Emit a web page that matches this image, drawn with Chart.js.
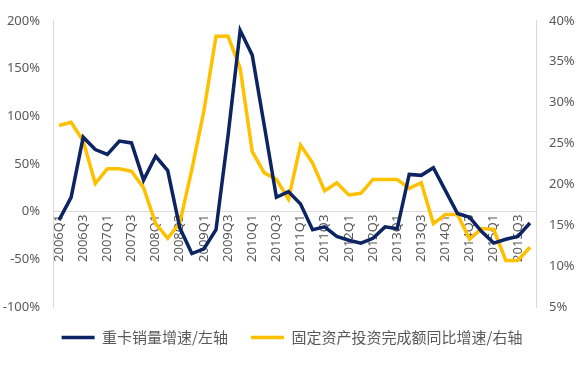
<!DOCTYPE html>
<html>
<head>
<meta charset="utf-8">
<script src="https://cdn.jsdelivr.net/npm/chart.js@4.4.0/dist/chart.umd.min.js"></script>
<style>
  html, body { margin: 0; padding: 0; background: #fff; }
  #wrap { width: 584px; height: 365px; position: relative; }
</style>
</head>
<body>
<div id="wrap"><canvas id="mycanvas"></canvas></div>
<script>
// quarters 2006Q1 .. 2015Q4
var quarters = [
  "2006Q1","2006Q2","2006Q3","2006Q4","2007Q1","2007Q2","2007Q3","2007Q4",
  "2008Q1","2008Q2","2008Q3","2008Q4","2009Q1","2009Q2","2009Q3","2009Q4",
  "2010Q1","2010Q2","2010Q3","2010Q4","2011Q1","2011Q2","2011Q3","2011Q4",
  "2012Q1","2012Q2","2012Q3","2012Q4","2013Q1","2013Q2","2013Q3","2013Q4",
  "2014Q1","2014Q2","2014Q3","2014Q4","2015Q1","2015Q2","2015Q3","2015Q4"
];

// 重卡销量增速 (%), left axis
var truckSales = [
  -9, 15, 78, 65, 60, 74, 72, 33,
  58, 43, -17, -44, -39, -19, 80, 190,
  164, 90, 15, 21, 8, -19, -16, -26,
  -30, -33, -28, -16, -18, 39, 38, 46,
  22, -2, -6, -21, -33, -29, -26, -12
];

// 固定资产投资完成额同比增速 (%), right axis
var fixedInvest = [
  27.2, 27.6, 25.3, 20.1, 21.9, 21.9, 21.6, 19.6,
  15.2, 13.4, 15.3, 21.8, 29.0, 38.1, 38.1, 34.2,
  24.0, 21.4, 20.6, 18.2, 24.8, 22.6, 19.2, 20.2,
  18.7, 18.9, 20.6, 20.6, 20.6, 19.5, 20.2, 15.2,
  16.3, 16.3, 13.3, 14.6, 14.5, 10.7, 10.7, 12.3
];

var leftRange = [-100, 200, 50];
var rightRange = [5, 40, 5];

var axisGray = "#d9d9d9";
var textGray = "#595959";
var tickFont = { family: "'Noto Sans', 'Noto Sans CJK SC', sans-serif", size: 13 };

var ctx = document.getElementById("mycanvas");

var chart = new Chart(ctx, {
  type: "line",
  data: {
    labels: quarters,
    datasets: [
      {
        label: "重卡销量增速/左轴",
        data: truckSales,
        yAxisID: "y",
        borderColor: "#0c2461",
        backgroundColor: "#0c2461",
        borderWidth: 3.5,
        pointRadius: 0,
        tension: 0,
        fill: false
      },
      {
        label: "固定资产投资完成额同比增速/右轴",
        data: fixedInvest,
        yAxisID: "y1",
        borderColor: "#ffc000",
        backgroundColor: "#ffc000",
        borderWidth: 3.5,
        pointRadius: 0,
        tension: 0,
        fill: false
      }
    ]
  },
  options: {
    responsive: true,
    maintainAspectRatio: false,
    animation: false,
    layout: { padding: { top: 15, bottom: 10, left: 0, right: 0 } },
    plugins: {
      tooltip: { enabled: false },
      legend: {
        position: "bottom",
        labels: {
          usePointStyle: true,
          pointStyle: "line",
          pointStyleWidth: 33,
          padding: 23,
          color: textGray,
          font: { family: "'Noto Sans CJK SC', sans-serif", size: 15 }
        }
      }
    },
    scales: {
      x: {
        position: { y: 0 },
        offset: true,
        grid: { display: false, drawTicks: false },
        border: { display: true, color: axisGray, width: 1 },
        afterFit: function(scale) { scale.height = 0; },
        ticks: {
          autoSkip: false,
          minRotation: 90,
          maxRotation: 90,
          padding: 3,
          color: textGray,
          font: tickFont,
          callback: function(val, i) { return i % 2 === 0 ? quarters[i] : ""; }
        }
      },
      y: {
        position: "left",
        min: leftRange[0],
        max: leftRange[1],
        grid: { display: false, drawTicks: false },
        border: { display: true, color: axisGray, width: 1 },
        afterFit: function(scale) { scale.width = 53; },
        ticks: {
          stepSize: leftRange[2],
          padding: 13,
          color: textGray,
          font: tickFont,
          callback: function(v) { return v + "%"; }
        }
      },
      y1: {
        position: "right",
        min: rightRange[0],
        max: rightRange[1],
        grid: { display: false, drawTicks: false },
        border: { display: true, color: axisGray, width: 1 },
        afterFit: function(scale) { scale.width = 48; },
        ticks: {
          stepSize: rightRange[2],
          padding: 13,
          color: textGray,
          font: tickFont,
          callback: function(v) { return v + "%"; }
        }
      }
    }
  }
});
</script>
</body>
</html>
